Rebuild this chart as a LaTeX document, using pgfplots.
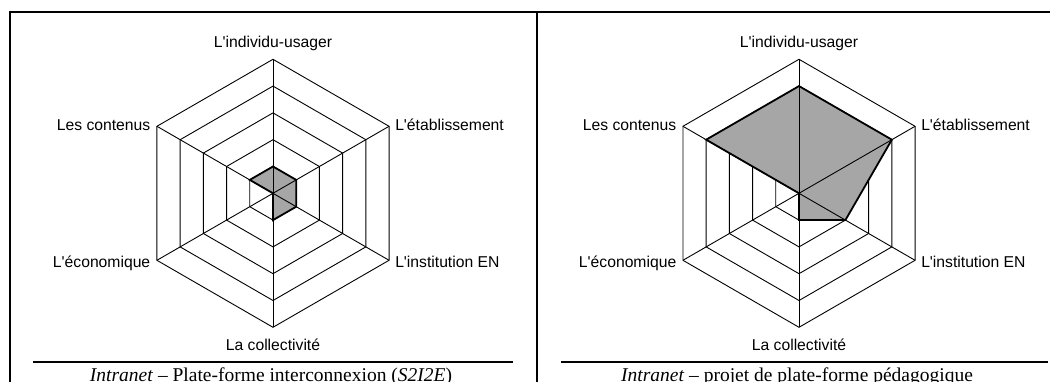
\documentclass[border=0pt]{standalone}
\usepackage{pgfplots}
\pgfplotsset{compat=1.18}
\usepgfplotslibrary{polar}
\usepackage{fontspec}
\setmainfont{Liberation Serif}
\newfontfamily\arial{Liberation Sans}
\definecolor{areagray}{RGB}{166,166,166}
\newcommand\q{\textquotesingle}

% angle = axis direction, r = score (0-5)
\pgfplotstableread{
angle r
90 1
30 1
330 1
270 1
210 0
150 1
}\interco

\pgfplotstableread{
angle r
90 4
30 4
330 2
270 1
210 0
150 4
}\pedago

\pgfplotsset{
  radar/.style={hide axis, clip=false, scale only axis,
    width=268pt, height=268pt, ymin=0, ymax=5, anchor=center},
}
\tikzset{lbl/.style={font=\arial\fontsize{15.7}{18}\selectfont, inner sep=0pt}}

\newcommand\radargrid{%
  \pgfplotsinvokeforeach{1,2,3,4,5}{
    \addplot[black, line width=0.9pt] coordinates {(90,##1) (30,##1) (330,##1) (270,##1) (210,##1) (150,##1)} -- cycle;
  }}
\newcommand\radarspokes{%
  \pgfplotsinvokeforeach{90,30,330,270,210,150}{
    \addplot[black, line width=0.9pt] coordinates {(##1,0) (##1,5)};
  }}
\newcommand\radarlabels{%
  \node[lbl, anchor=base, yshift=11.8pt] at (axis cs:90,5) {L\q individu-usager};
  \node[lbl, anchor=base west, xshift=6pt, yshift=-4pt] at (axis cs:30,5) {L\q établissement};
  \node[lbl, anchor=base west, xshift=6pt, yshift=-7.6pt] at (axis cs:330,5) {L\q institution EN};
  \node[lbl, anchor=base, yshift=-23pt] at (axis cs:270,5) {La collectivité};
  \node[lbl, anchor=base east, xshift=-6.5pt, yshift=-7.3pt] at (axis cs:210,5) {L\q économique};
  \node[lbl, anchor=base east, xshift=-6.5pt, yshift=-4pt] at (axis cs:150,5) {Les contenus};
}

\begin{document}
\begin{tikzpicture}
\useasboundingbox (0,0) rectangle (1050pt,382pt);
\clip (0,0) rectangle (1050pt,382pt);

% table frame
\draw[line width=2pt] (10pt,-5pt) -- (10pt,370pt) -- (1060pt,370pt);
\draw[line width=2pt] (537pt,-5pt) -- (537pt,370pt);
\draw[line width=1.5pt] (33pt,20pt) -- (513pt,20pt);
\draw[line width=1.5pt] (561pt,20pt) -- (1048pt,20pt);

\begin{polaraxis}[radar, at={(273pt,188.7pt)}]
\radargrid
\addplot[fill=areagray, draw=black, line width=1.8pt] table[x=angle, y=r] {\interco} -- cycle;
\radarspokes
\radarlabels
\end{polaraxis}

\begin{polaraxis}[radar, at={(799pt,188.7pt)}]
\radargrid
\addplot[fill=areagray, draw=black, line width=1.8pt] table[x=angle, y=r] {\pedago} -- cycle;
\radarspokes
\radarlabels
\end{polaraxis}

\node[anchor=base, inner sep=0pt, font=\fontsize{19.5}{22}\selectfont] at (271pt,0.8pt)
  {\textit{Intranet} – Plate-forme interconnexion (\textit{S2I2E})};
\node[anchor=base, inner sep=0pt, font=\fontsize{19.5}{22}\selectfont] at (797pt,0.8pt)
  {\textit{Intranet} – projet de plate-forme pédagogique};
\end{tikzpicture}
\end{document}
